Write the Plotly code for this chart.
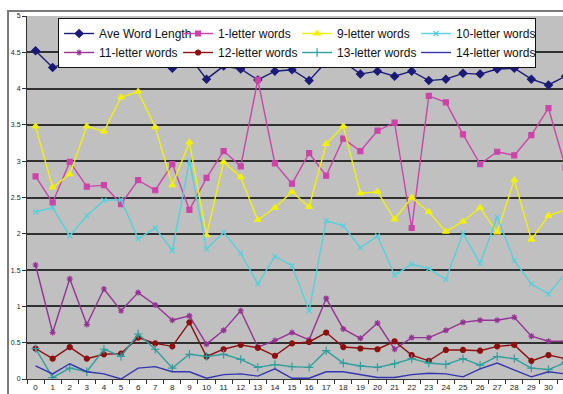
import plotly.graph_objects as go

# Position of each text sample along the x axis
positions = [str(i) for i in range(32)]

ave_word_length = [4.52, 4.29, 4.37, 4.40, 4.44, 4.45, 4.49, 4.45, 4.28, 4.44,
                   4.13, 4.31, 4.27, 4.12, 4.24, 4.26, 4.11, 4.37, 4.37, 4.20,
                   4.24, 4.17, 4.24, 4.11, 4.13, 4.21, 4.20, 4.27, 4.28, 4.13,
                   4.05, 4.17]
letters_1 = [2.79, 2.43, 2.99, 2.65, 2.67, 2.41, 2.74, 2.60, 2.96, 2.33,
             2.77, 3.14, 2.93, 4.12, 2.97, 2.69, 3.11, 2.80, 3.31, 3.14,
             3.42, 3.53, 2.08, 3.90, 3.81, 3.37, 2.96, 3.13, 3.08, 3.36,
             3.73, 2.91]
letters_9 = [3.48, 2.64, 2.82, 3.48, 3.41, 3.88, 3.96, 3.47, 2.67, 3.26,
             1.98, 2.99, 2.78, 2.19, 2.36, 2.58, 2.37, 3.24, 3.48, 2.56,
             2.58, 2.20, 2.50, 2.30, 2.03, 2.17, 2.36, 2.02, 2.74, 1.92,
             2.25, 2.33]
letters_10 = [2.30, 2.36, 1.97, 2.25, 2.46, 2.47, 1.93, 2.08, 1.77, 3.00,
              1.79, 2.02, 1.73, 1.31, 1.69, 1.56, 0.94, 2.18, 2.11, 1.81,
              1.97, 1.43, 1.58, 1.52, 1.37, 2.01, 1.59, 2.23, 1.63, 1.31,
              1.17, 1.46]
letters_11 = [1.57, 0.64, 1.38, 0.75, 1.24, 0.94, 1.19, 1.02, 0.81, 0.87,
              0.48, 0.67, 0.94, 0.44, 0.53, 0.64, 0.54, 1.11, 0.69, 0.56,
              0.77, 0.41, 0.57, 0.57, 0.67, 0.78, 0.81, 0.81, 0.85, 0.59,
              0.52, 0.52]
letters_12 = [0.42, 0.28, 0.44, 0.28, 0.34, 0.35, 0.57, 0.49, 0.45, 0.78,
              0.31, 0.41, 0.47, 0.43, 0.32, 0.49, 0.51, 0.64, 0.44, 0.42,
              0.41, 0.52, 0.33, 0.25, 0.40, 0.40, 0.39, 0.45, 0.47, 0.25,
              0.33, 0.28]
letters_13 = [0.42, 0.02, 0.15, 0.10, 0.41, 0.31, 0.62, 0.41, 0.15, 0.34,
              0.31, 0.34, 0.27, 0.16, 0.20, 0.17, 0.16, 0.39, 0.22, 0.18,
              0.16, 0.21, 0.28, 0.22, 0.20, 0.28, 0.19, 0.31, 0.28, 0.15,
              0.13, 0.23]
letters_14 = [0.18, 0.07, 0.21, 0.10, 0.07, 0.00, 0.15, 0.17, 0.10, 0.10,
              0.01, 0.06, 0.07, 0.04, 0.14, 0.01, 0.01, 0.10, 0.10, 0.06,
              0.02, 0.02, 0.06, 0.08, 0.07, 0.03, 0.14, 0.22, 0.12, 0.03,
              0.10, 0.07]

y_ticks = [0, 0.5, 1, 1.5, 2, 2.5, 3, 3.5, 4, 4.5, 5]
y_tick_text = ["0", "0.5", "1", "1.5", "2", "2.5", "3", "3.5", "4", "4.5", "5"]

series = [
    ("Ave Word Length", ave_word_length, "#1a1a78", "diamond", 6),
    ("1-letter words", letters_1, "#cc44aa", "square", 5),
    ("9-letter words", letters_9, "#f2f200", "triangle-up", 6),
    ("10-letter words", letters_10, "#55d0dd", "x-thin-open", 5),
    ("11-letter words", letters_11, "#953395", "asterisk-open", 5),
    ("12-letter words", letters_12, "#8c1010", "circle", 5),
    ("13-letter words", letters_13, "#2f9e9e", "cross-thin-open", 6),
    ("14-letter words", letters_14, "#3535b0", None, 0),
]

fig = go.Figure()
for name, values, color, symbol, size in series:
    if symbol is None:
        fig.add_trace(go.Scatter(
            x=positions, y=values, name=name, mode="lines",
            line=dict(color=color, width=1.4)))
    else:
        fig.add_trace(go.Scatter(
            x=positions, y=values, name=name, mode="lines+markers",
            line=dict(color=color, width=1.4),
            marker=dict(symbol=symbol, size=size, color=color,
                        line=dict(color=color, width=1.2))))

# Outer chart frame
fig.add_shape(type="rect", xref="paper", yref="paper",
              x0=-0.0354, x1=1.2, y0=-0.2, y1=1.0138,
              line=dict(color="#7a7a7a", width=2), layer="below")

fig.update_layout(
    width=563, height=394,
    margin=dict(l=27, r=0, t=16, b=15),
    paper_bgcolor="white",
    plot_bgcolor="#c0c0c0",
    font=dict(family="Liberation Sans, Arial, sans-serif", color="#222"),
    showlegend=True,
    legend=dict(
        orientation="h", x=0.058, y=0.9945, xanchor="left", yanchor="top",
        bgcolor="white", bordercolor="#111", borderwidth=1,
        font=dict(size=12, color="#111"),
        entrywidth=74, itemwidth=30, tracegroupgap=0,
    ),
    xaxis=dict(
        type="category", range=[-0.5, 30.85],
        tickson="boundaries", ticks="outside", ticklen=4, tickangle=0,
        tickcolor="#333", showgrid=False, showline=True,
        linecolor="#333", linewidth=1, zeroline=False,
        tickfont=dict(size=8, color="#222"),
    ),
    yaxis=dict(
        range=[0, 5], tickvals=y_ticks, ticktext=y_tick_text,
        ticks="outside", ticklen=4, tickcolor="#333",
        showline=True, linecolor="#333", linewidth=1,
        showgrid=True, gridcolor="#303030", gridwidth=1.5,
        zeroline=False, tickfont=dict(size=7, color="#222"),
    ),
)

fig.write_html("out.html")
